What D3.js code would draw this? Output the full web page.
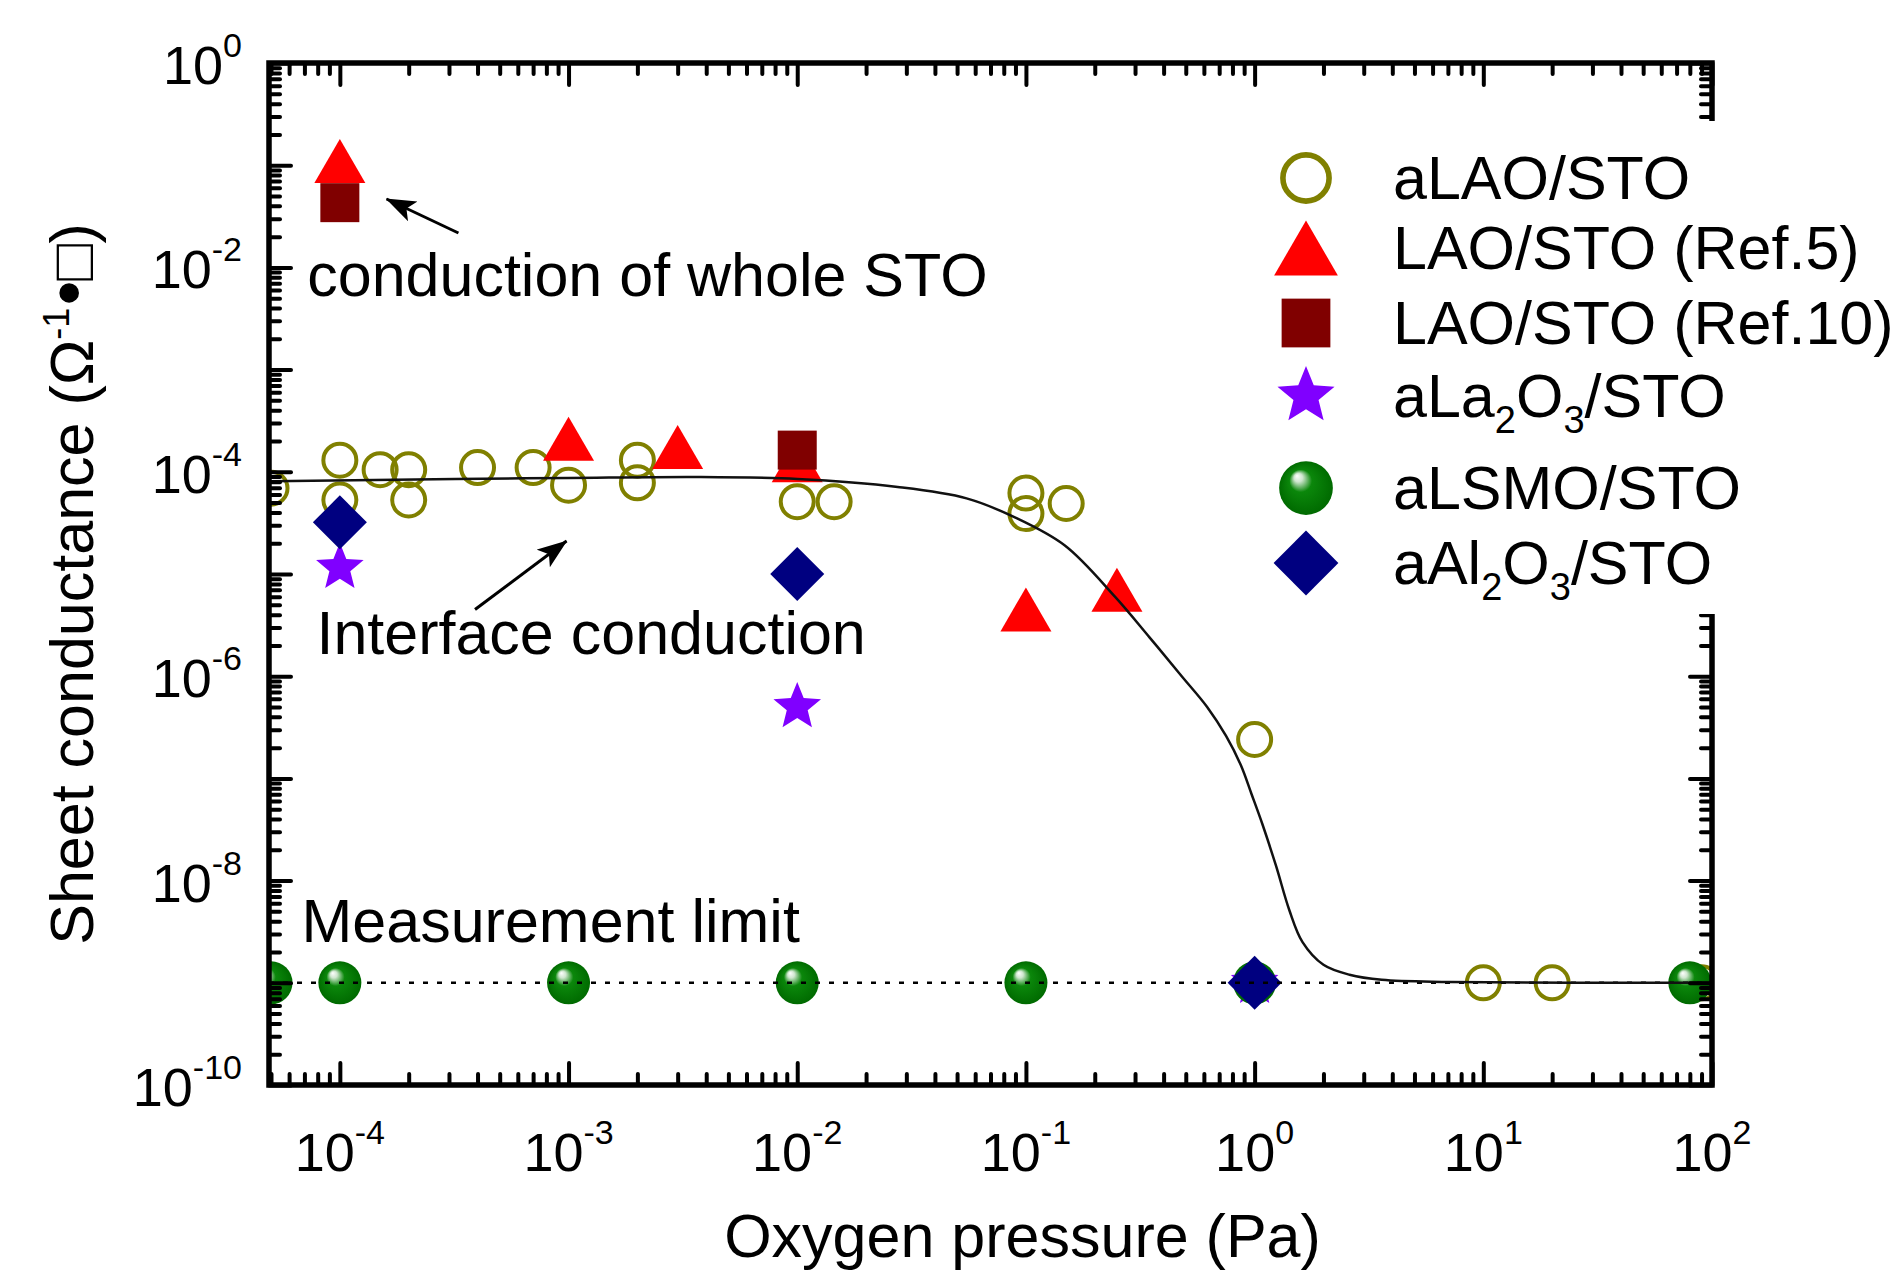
<!DOCTYPE html>
<html>
<head>
<meta charset="utf-8">
<script src="https://cdn.jsdelivr.net/npm/d3@7"></script>
<style>
  body { margin: 0; background: #fff; }
  svg { display: block; font-family: "Liberation Sans", Arial, sans-serif; }
</style>
</head>
<body>
<svg id="chart" width="1900" height="1273"></svg>
<script>
// ---- data (pressure in Pa, sheet conductance in 1/ohm) ----
const alaoP   = [5e-5, 1e-4, 1e-4, 1.5e-4, 2e-4, 2e-4, 4e-4, 7e-4, 1e-3, 2e-3, 2e-3, 1e-2, 1.45e-2, 0.1, 0.1, 0.15, 1, 10, 20, 90];
const alaoG   = [6.9e-5, 1.3e-4, 5.3e-5, 1.05e-4, 1.05e-4, 5.3e-5, 1.1e-4, 1.1e-4, 7.4e-5, 1.3e-4, 7.8e-5, 5.1e-5, 5.1e-5, 6.2e-5, 3.9e-5, 4.9e-5, 2.4e-7, 1e-9, 1e-9, 1e-9];
const ref5P   = [1e-4, 1e-3, 3e-3, 1e-2, 0.1, 0.25];
const ref5G   = [0.11, 2.1e-4, 1.75e-4, 1.3e-4, 4.5e-6, 7e-6];
const ref10P  = [1e-4, 1e-2];
const ref10G  = [0.043, 1.63e-4];
const la2o3P  = [1e-4, 1e-2, 1];
const la2o3G  = [1.15e-5, 5e-7, 1e-9];
const lsmoP   = [5e-5, 1e-4, 1e-3, 1e-2, 0.1, 1, 80];
const lsmoG   = [1e-9, 1e-9, 1e-9, 1e-9, 1e-9, 1e-9, 1e-9];
const al2o3P  = [1e-4, 1e-2, 1];
const al2o3G  = [3.2e-5, 1e-5, 1e-9];

// guide curve through the aLAO/STO data
const fitP = [5e-5, 3.2e-4, 1e-3, 3.7e-3, 1e-2, 2.75e-2, 5.5e-2, 8.9e-2, 0.148, 0.245, 0.347, 0.48, 0.62, 0.75, 0.87, 0.97, 1.08, 1.24, 1.42, 1.62, 2.0, 2.6, 3.6, 7.1, 100];
const fitG = [8.1e-5, 8.5e-5, 8.7e-5, 8.9e-5, 8.5e-5, 7.1e-5, 5.5e-5, 3.6e-5, 1.9e-5, 6.0e-6, 2.4e-6, 1.0e-6, 5.0e-7, 2.6e-7, 1.35e-7, 7.0e-8, 3.6e-8, 1.4e-8, 5.1e-9, 2.5e-9, 1.5e-9, 1.2e-9, 1.07e-9, 1.02e-9, 1e-9];

const measurementLimit = 1e-9;

const xTickValues = [1e-4, 1e-3, 1e-2, 1e-1, 1, 10, 100];
const xTickExps   = ["-4", "-3", "-2", "-1", "0", "1", "2"];
const yTickValues = [1, 1e-2, 1e-4, 1e-6, 1e-8, 1e-10];
const yTickExps   = ["0", "-2", "-4", "-6", "-8", "-10"];

const legendNames = ["aLAO/STO", "LAO/STO (Ref.5)", "LAO/STO (Ref.10)", "aLa_2O_3/STO", "aLSMO/STO", "aAl_2O_3/STO"];

// annotations, in data units
const notes = [
  { text: "conduction of whole STO", p: 7.2e-5, g: 5.25e-3 },
  { text: "Interface conduction",    p: 7.9e-5, g: 1.65e-6 },
  { text: "Measurement limit",       p: 6.8e-5, g: 2.5e-9 }
];
const arrows = [
  { from: [3.3e-4, 0.0217], to: [1.6e-4, 0.0467] },
  { from: [3.9e-4, 4.5e-6], to: [9.8e-4, 2.1e-5] }
];

// ---- layout ----
const plot = { left: 269, right: 1712, top: 63, bottom: 1085 };
const svg = d3.select("#chart");

const x = d3.scaleLog().domain([4.9e-5, 100]).range([plot.left, plot.right]);
const y = d3.scaleLog().domain([1e-10, 1]).range([plot.bottom, plot.top]);

const defs = svg.append("defs");
defs.append("clipPath").attr("id", "plotClip")
  .append("rect")
  .attr("x", plot.left).attr("y", plot.top)
  .attr("width", plot.right - plot.left).attr("height", plot.bottom - plot.top);

const grad = defs.append("radialGradient").attr("id", "sphere")
  .attr("cx", "50%").attr("cy", "50%").attr("r", "50%")
  .attr("fx", "33%").attr("fy", "27%");
grad.append("stop").attr("offset", "0%").attr("stop-color", "#ffffff");
grad.append("stop").attr("offset", "16%").attr("stop-color", "#cfe6cf");
grad.append("stop").attr("offset", "42%").attr("stop-color", "#0b870b");
grad.append("stop").attr("offset", "100%").attr("stop-color", "#006a00");

defs.append("marker").attr("id", "arrowHead")
  .attr("markerUnits", "userSpaceOnUse")
  .attr("viewBox", "0 0 30 24")
  .attr("markerWidth", 30).attr("markerHeight", 24)
  .attr("refX", 29).attr("refY", 12)
  .attr("orient", "auto")
  .append("path").attr("d", "M0,1 L30,12 L0,23 L7,12 Z").attr("fill", "#000");

// symbol drawing (s = scale factor)
function starPath(R, r) {
  const pts = d3.range(10).map(i => {
    const a = -Math.PI / 2 + i * Math.PI / 5;
    const rad = i % 2 === 0 ? R : r;
    return [rad * Math.cos(a), rad * Math.sin(a)];
  });
  return "M" + pts.map(p => p.join(",")).join("L") + "Z";
}
const shapes = {
  circle:   (g, s) => g.append("circle").attr("r", 16.5 * s).attr("fill", "none")
                       .attr("stroke", "#808000").attr("stroke-width", 4 * s),
  triangle: (g, s) => g.append("path").attr("fill", "#ff0000")
                       .attr("d", `M0,${-22 * s}L${25.5 * s},${22 * s}L${-25.5 * s},${22 * s}Z`),
  square:   (g, s) => g.append("rect").attr("fill", "#800000")
                       .attr("x", -19.5 * s).attr("y", -19.5 * s).attr("width", 39 * s).attr("height", 39 * s),
  star:     (g, s) => g.append("path").attr("fill", "#8000ff").attr("d", starPath(25 * s, 11 * s)),
  sphere:   (g, s) => g.append("circle").attr("r", 21.5 * s).attr("fill", "url(#sphere)"),
  diamond:  (g, s) => g.append("path").attr("fill", "#000080")
                       .attr("d", `M0,${-27 * s}L${27 * s},0L0,${27 * s}L${-27 * s},0Z`)
};

const series = [
  { p: alaoP,  g: alaoG,  shape: "circle",   legendScale: 1.4 },
  { p: ref5P,  g: ref5G,  shape: "triangle", legendScale: 1.25 },
  { p: ref10P, g: ref10G, shape: "square",   legendScale: 1.25 },
  { p: la2o3P, g: la2o3G, shape: "star",     legendScale: 1.2 },
  { p: lsmoP,  g: lsmoG,  shape: "sphere",   legendScale: 1.25 },
  { p: al2o3P, g: al2o3G, shape: "diamond",  legendScale: 1.2 }
];

const dataLayer = svg.append("g").attr("clip-path", "url(#plotClip)");

series.forEach(sr => {
  const pts = sr.p.map((v, i) => [v, sr.g[i]]);
  dataLayer.append("g").selectAll("g")
    .data(pts)
    .join("g")
    .attr("transform", d => `translate(${x(d[0])},${y(d[1])})`)
    .each(function () { shapes[sr.shape](d3.select(this), 1); });
});

// measurement limit (dotted) and guide curve on top of the markers
dataLayer.append("line")
  .attr("x1", plot.left).attr("x2", plot.right)
  .attr("y1", y(measurementLimit)).attr("y2", y(measurementLimit))
  .attr("stroke", "#000").attr("stroke-width", 2.5)
  .attr("stroke-dasharray", "5 9");

const fitLine = d3.line()
  .x(d => x(d[0]))
  .y(d => y(d[1]))
  .curve(d3.curveCatmullRom.alpha(0.5));

dataLayer.append("path")
  .datum(fitP.map((v, i) => [v, fitG[i]]))
  .attr("d", fitLine)
  .attr("fill", "none")
  .attr("stroke", "#111")
  .attr("stroke-width", 2.5);

// ---- axes: inward major + minor ticks on all four sides ----
const minorX = [];
for (let e = -5; e < 2; e++) for (let k = 2; k < 10; k++) {
  const v = k * Math.pow(10, e);
  if (v > x.domain()[0] && v < x.domain()[1]) minorX.push(v);
}
const majorY = d3.range(-10, 1).map(e => Math.pow(10, e));
const minorY = [];
for (let e = -10; e < 0; e++) for (let k = 2; k < 10; k++) minorY.push(k * Math.pow(10, e));

function tickAxis(axisFn, scale, values, size, transform) {
  svg.append("g")
    .attr("transform", transform)
    .call(axisFn(scale).tickValues(values).tickSizeInner(-size).tickSizeOuter(0).tickFormat(""))
    .call(g => g.select(".domain").remove())
    .call(g => g.selectAll(".tick line")
      .attr("stroke", "#000").attr("stroke-width", 4).attr("stroke-linecap", "round"));
}
tickAxis(d3.axisBottom, x, xTickValues, 22, `translate(0,${plot.bottom})`);
tickAxis(d3.axisBottom, x, minorX, 11, `translate(0,${plot.bottom})`);
tickAxis(d3.axisTop, x, xTickValues, 22, `translate(0,${plot.top})`);
tickAxis(d3.axisTop, x, minorX, 11, `translate(0,${plot.top})`);
tickAxis(d3.axisLeft, y, majorY, 22, `translate(${plot.left},0)`);
tickAxis(d3.axisLeft, y, minorY, 11, `translate(${plot.left},0)`);
tickAxis(d3.axisRight, y, majorY, 22, `translate(${plot.right},0)`);
tickAxis(d3.axisRight, y, minorY, 11, `translate(${plot.right},0)`);

// frame
svg.append("rect")
  .attr("x", plot.left).attr("y", plot.top)
  .attr("width", plot.right - plot.left).attr("height", plot.bottom - plot.top)
  .attr("fill", "none").attr("stroke", "#000").attr("stroke-width", 5.5);

// tick labels (10 with superscript exponent)
svg.append("g").selectAll("text")
  .data(xTickValues)
  .join("text")
  .attr("x", d => x(d))
  .attr("y", 1171)
  .attr("text-anchor", "middle")
  .attr("font-size", 54)
  .each(function (d, i) {
    const t = d3.select(this);
    t.append("tspan").text("10");
    t.append("tspan").attr("dy", -27).attr("font-size", 34).text(xTickExps[i]);
  });

svg.append("g").selectAll("text")
  .data(yTickValues)
  .join("text")
  .attr("x", 242)
  .attr("y", d => y(d) + 21)
  .attr("text-anchor", "end")
  .attr("font-size", 54)
  .each(function (d, i) {
    const t = d3.select(this);
    t.append("tspan").text("10");
    t.append("tspan").attr("dy", -27).attr("font-size", 34).text(yTickExps[i]);
  });

// axis titles
svg.append("text")
  .attr("x", (plot.left + plot.right) / 2 + 32)
  .attr("y", 1257)
  .attr("text-anchor", "middle")
  .attr("font-size", 61)
  .text("Oxygen pressure (Pa)");

const yTitle = svg.append("text")
  .attr("transform", `translate(93,${(plot.top + plot.bottom) / 2 + 10}) rotate(-90)`)
  .attr("text-anchor", "middle")
  .attr("font-size", 61);
yTitle.append("tspan").text("Sheet conductance (\u03A9");
yTitle.append("tspan").attr("dy", -24).attr("font-size", 36).text("-1");
yTitle.append("tspan").attr("dy", 24).attr("font-size", 72).attr("dx", 2).text("\u2022");
yTitle.append("tspan").text("\u25A1)");

// annotations
svg.append("g").selectAll("text")
  .data(notes)
  .join("text")
  .attr("x", d => x(d.p))
  .attr("y", d => y(d.g))
  .attr("font-size", 61)
  .text(d => d.text);

svg.append("g").selectAll("line")
  .data(arrows)
  .join("line")
  .attr("x1", d => x(d.from[0])).attr("y1", d => y(d.from[1]))
  .attr("x2", d => x(d.to[0])).attr("y2", d => y(d.to[1]))
  .attr("stroke", "#000").attr("stroke-width", 3)
  .attr("marker-end", "url(#arrowHead)");

// legend, on a white box that hides the right axis behind it
svg.append("rect")
  .attr("x", 1262).attr("y", 121)
  .attr("width", 1900 - 1262).attr("height", 614 - 121)
  .attr("fill", "#fff");

const legendRowY = [178, 248, 323, 396, 488, 563];
const legend = svg.append("g").selectAll("g")
  .data(series)
  .join("g")
  .attr("transform", (d, i) => `translate(1306,${legendRowY[i]})`);

legend.each(function (d) { shapes[d.shape](d3.select(this), d.legendScale); });

legend.append("text")
  .attr("x", 87)
  .attr("y", 21)
  .attr("font-size", 61)
  .each(function (d, i) {
    const t = d3.select(this);
    const parts = legendNames[i].split(/_(\d)/);
    parts.forEach((part, j) => {
      if (j % 2 === 1) {
        t.append("tspan").attr("dy", 16).attr("font-size", 38).text(part);
      } else if (part) {
        t.append("tspan").attr("dy", j > 0 ? -16 : 0).text(part);
      }
    });
  });
</script>
</body>
</html>
